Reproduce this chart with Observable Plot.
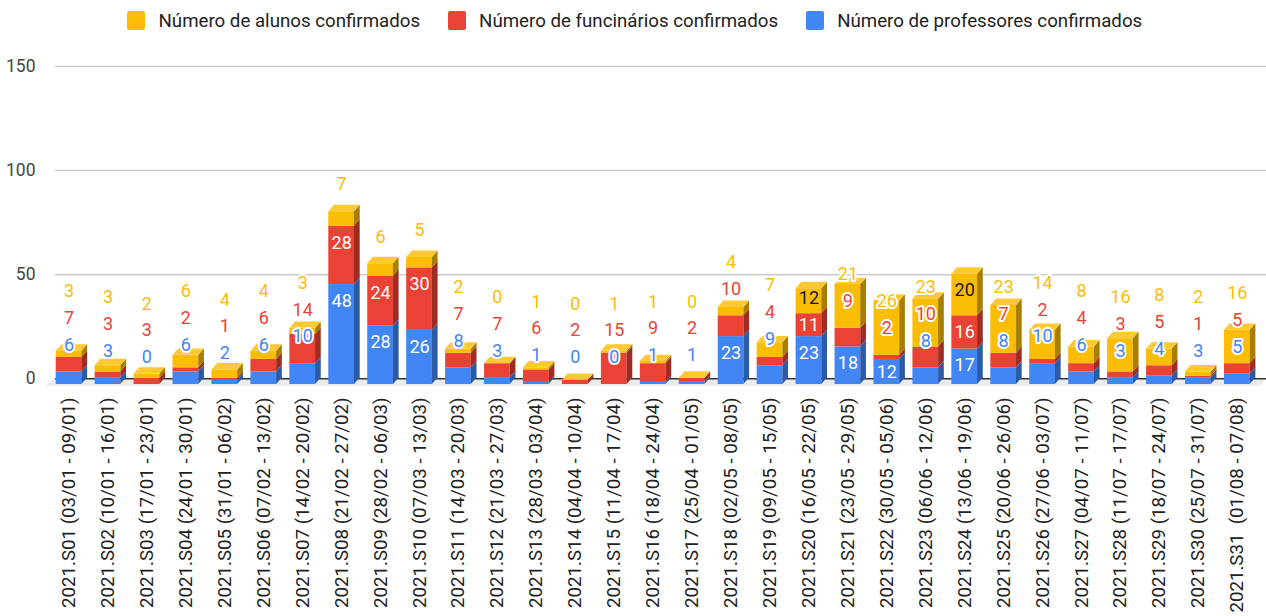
<!DOCTYPE html>
<html><head><meta charset="utf-8">
<script src="https://cdn.jsdelivr.net/npm/d3@7"></script>
<script src="https://cdn.jsdelivr.net/npm/@observablehq/plot@0.6"></script>
<style>
body{margin:0;background:#fff;font-family:Roboto,"Liberation Sans",sans-serif;}
#legend{position:relative;height:40px;width:1266px;}
#legend .items{position:absolute;left:127px;top:11px;display:flex;align-items:center;height:19px;}
.item{display:flex;align-items:center;margin-right:27.5px;font-size:18.7px;color:#222;white-space:nowrap;}
.sw{width:18px;height:19px;border-radius:2px;margin-right:13.5px;}
svg text{white-space:pre;}
</style></head><body>
<div id="legend"><div class="items"></div></div>
<div id="chart"></div>
<script>
const weeks = [
"2021.S01 (03/01 - 09/01)","2021.S02 (10/01 - 16/01)","2021.S03 (17/01 - 23/01)","2021.S04 (24/01 - 30/01)",
"2021.S05 (31/01 - 06/02)","2021.S06 (07/02 - 13/02)","2021.S07 (14/02 - 20/02)","2021.S08 (21/02 - 27/02)",
"2021.S09 (28/02 - 06/03)","2021.S10 (07/03 - 13/03)","2021.S11 (14/03 - 20/03)","2021.S12 (21/03 - 27/03)",
"2021.S13 (28/03 - 03/04)","2021.S14 (04/04 - 10/04)","2021.S15 (11/04 - 17/04)","2021.S16 (18/04 - 24/04)",
"2021.S17 (25/04 - 01/05)","2021.S18 (02/05 - 08/05)","2021.S19 (09/05 - 15/05)","2021.S20 (16/05 - 22/05)",
"2021.S21 (23/05 - 29/05)","2021.S22 (30/05 - 05/06)","2021.S23 (06/06 - 12/06)","2021.S24 (13/06 - 19/06)",
"2021.S25 (20/06 - 26/06)","2021.S26 (27/06 - 03/07)","2021.S27 (04/07 - 11/07)","2021.S28 (11/07 - 17/07)",
"2021.S29 (18/07 - 24/07)","2021.S30 (25/07 - 31/07)","2021.S31  (01/08 - 07/08)"];
const professores  = [6,3,0,6,2,6,10,48,28,26,8,3,1,0,0,1,1,23,9,23,18,12,8,17,8,10,6,3,4,3,5];
const funcionarios = [7,3,3,2,1,6,14,28,24,30,7,7,6,2,15,9,2,10,4,11,9,2,10,16,7,2,4,3,5,1,5];
const alunos       = [3,3,2,6,4,4,3,7,6,5,2,0,1,0,1,1,0,4,7,12,21,26,23,20,23,14,8,16,8,2,16];
const yTicks = [0,50,100,150];

const legendNames = ["Número de alunos confirmados","Número de funcinários confirmados","Número de professores confirmados"];
const legendColors = ["#fbbc04","#ea4335","#4285f4"];

// stacking order bottom -> top
const stack = [
  {key:"prof", values: professores,  color:"#4285f4", side:"#2c5ba6", inText:"#ffffff"},
  {key:"func", values: funcionarios, color:"#ea4335", side:"#a02b22", inText:"#ffffff"},
  {key:"alun", values: alunos,       color:"#fbbc04", side:"#a87e00", inText:"#1a1a1a"}
];
const topColor = "#fcc934";

// legend
const items = document.querySelector("#legend .items");
legendNames.forEach((n,i)=>{
  const it = document.createElement("div"); it.className="item";
  const sw = document.createElement("div"); sw.className="sw"; sw.style.background=legendColors[i];
  const t = document.createElement("span"); t.textContent=n;
  it.appendChild(sw); it.appendChild(t); items.appendChild(it);
});

const W = 1266, H = 576, MT = 26, MB = 237.7, ML = 55, MR = 0;
const yRange = [H - MB, MT];
const OFF = 5.7, DX3 = 5.7, DY3 = 6.4;
const yScale = Plot.scale({y: {domain: [0,150], range: yRange}});
const k = (yRange[0] - yRange[1]) / 150;

// stacked rows
const rows = [];
weeks.forEach((w,i)=>{
  let cum = 0;
  stack.forEach(s=>{
    const v = s.values[i];
    rows.push({week:w, key:s.key, y1:cum, y2:cum+v});
    cum += v;
  });
});

// label layout (Google-style auto placement)
const labels = [];
weeks.forEach((w,i)=>{
  let cum = 0, prev = Infinity;
  stack.forEach(s=>{
    const v = s.values[i];
    const topPx = yScale.apply(cum + v) + OFF;
    const h = v * k;
    cum += v;
    const fits = h >= 22;
    const desired = fits ? topPx + Math.min(16.5, h/2) : topPx - 27;
    const pos = Math.min(desired, prev - 26.8);
    const inside = fits && pos >= topPx + 8;
    prev = pos;
    labels.push({week:w, value:v, key:s.key, y: yScale.invert(pos), inside});
  });
});

function floor(index, scales) {
  const y0 = scales.y(0);
  const g = d3.create("svg:g");
  g.append("path")
    .attr("d", `M${ML},${y0}L${W},${y0}L${W-DX3},${y0+DY3+1}L${ML-DX3-4},${y0+DY3+1}Z`)
    .attr("fill", "#ececec");
  return g.node();
}

function faces(index, scales) {
  const sx = scales.x, sy = scales.y;
  const bw = typeof sx.bandwidth === "function" ? sx.bandwidth() : sx.bandwidth;
  const g = d3.create("svg:g");
  weeks.forEach((w,i)=>{
    const x0 = sx(w), x1 = x0 + bw;
    let cum = 0;
    stack.forEach(s=>{
      const v = s.values[i];
      if (v > 0) {
        const yb = sy(cum) + OFF, yt = sy(cum + v) + OFF;
        g.append("path")
          .attr("d", `M${x1},${yb}L${x1+DX3},${yb-DY3}L${x1+DX3},${yt-DY3}L${x1},${yt}Z`)
          .attr("fill", s.side);
      }
      cum += v;
    });
    const yt = sy(cum) + OFF;
    g.append("path")
      .attr("d", `M${x0},${yt}L${x0+DX3},${yt-DY3}L${x1+DX3},${yt-DY3}L${x1},${yt}Z`)
      .attr("fill", topColor);
  });
  return g.node();
}

const marks = [
  floor,
  Plot.ruleY(yTicks.filter(t=>t>0), {stroke:"#cccccc", strokeWidth:1.5}),
  Plot.ruleY([0], {stroke:"#333333", strokeWidth:1.6})
];
stack.forEach(s=>{
  marks.push(Plot.rectY(rows.filter(r=>r.key===s.key), {x:"week", y1:"y1", y2:"y2", fill:s.color, dy:OFF}));
});
marks.push(faces);
stack.forEach(s=>{
  marks.push(Plot.text(labels.filter(l=>l.key===s.key && l.inside), {
    x:"week", y:"y", text:d=>String(d.value), fill:s.inText, fontSize:18
  }));
  marks.push(Plot.text(labels.filter(l=>l.key===s.key && !l.inside), {
    x:"week", y:"y", text:d=>String(d.value), fill:s.color, stroke:"white", strokeWidth:4,
    paintOrder:"stroke", strokeLinejoin:"round", fontSize:18
  }));
});
marks.push(Plot.text(weeks, {
  x:d=>d, y:d=>0, text:d=>d, rotate:-90, textAnchor:"end", dy:18.7,
  fontSize:18.7, fill:"#222"
}));

const chart = Plot.plot({
  width: W, height: H,
  marginTop: MT, marginBottom: MB, marginLeft: ML, marginRight: MR,
  style: {fontFamily: "Roboto, 'Liberation Sans', sans-serif", fontSize: "17.5px", color: "#444", background: "white", overflow: "visible"},
  x: {type:"band", domain: weeks, range:[42.46, 1262.9], padding:0.34, round:false, axis:null},
  y: {domain:[0,150], range:yRange, ticks:yTicks, tickSize:0, tickPadding:20, label:null},
  marks
});
document.getElementById("chart").appendChild(chart);
</script>
</body></html>
